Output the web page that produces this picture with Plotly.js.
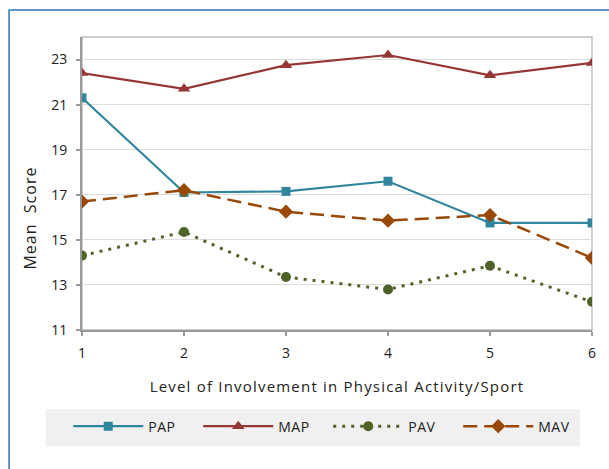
<!DOCTYPE html>
<html>
<head>
<meta charset="utf-8">
<script src="https://cdn.plot.ly/plotly-3.0.1.min.js"></script>
<style>
html,body{margin:0;padding:0;background:#fff;}
#chart{width:609px;height:469px;}
#chart .xtitle{letter-spacing:1.2px;}
#chart .annotation-text{letter-spacing:1px;}
#chart .legendtext{letter-spacing:0.5px;}
</style>
</head>
<body>
<div id="chart"></div>
<script>
var levels = [1, 2, 3, 4, 5, 6];
var pap = [21.3, 17.1, 17.15, 17.6, 15.75, 15.75];
var map = [22.4, 21.7, 22.75, 23.2, 22.3, 22.85];
var pav = [14.3, 15.35, 13.35, 12.8, 13.85, 12.25];
var mav = [16.7, 17.2, 16.25, 15.85, 16.1, 14.2];
var yTicks = [11, 13, 15, 17, 19, 21, 23];
var seriesNames = ['PAP', 'MAP', 'PAV', 'MAV'];

var FONT = 'Open Sans, Noto Sans, sans-serif';
var TXT = '#222222';

var traces = [
  {x: levels, y: pap, name: seriesNames[0], mode: 'lines+markers', type: 'scatter',
   line: {color: '#31859C', width: 2.2},
   marker: {symbol: 'square', size: 9, color: '#31859C'}},
  {x: levels, y: map, name: seriesNames[1], mode: 'lines+markers', type: 'scatter',
   line: {color: '#953735', width: 2.2},
   marker: {symbol: 'triangle-up', size: 11, color: '#953735'}},
  {x: levels, y: pav, name: seriesNames[2], mode: 'lines+markers', type: 'scatter',
   line: {color: '#4F6228', width: 3, dash: '3px,6px'},
   marker: {symbol: 'circle', size: 10, color: '#4F6228'}},
  {x: levels, y: mav, name: seriesNames[3], mode: 'lines+markers', type: 'scatter',
   line: {color: '#984807', width: 2.5, dash: '14px,7px'},
   marker: {symbol: 'diamond', size: 11, color: '#984807'}}
];

var layout = {
  width: 609, height: 469,
  margin: {l: 82, r: 17, t: 37, b: 139},
  paper_bgcolor: '#ffffff',
  plot_bgcolor: '#ffffff',
  font: {family: FONT, size: 14, color: TXT},
  showlegend: true,
  xaxis: {
    range: [1, 6], tickvals: levels, ticktext: levels.map(String),
    showgrid: false, zeroline: false,
    showline: true, linecolor: '#999999', linewidth: 2,
    ticks: 'outside', ticklen: 4, tickcolor: '#999999', tickwidth: 2,
    ticklabelstandoff: 5,
    tickfont: {family: FONT, size: 14, color: TXT},
    title: {text: 'Level of Involvement in Physical Activity/Sport', standoff: 21,
            font: {family: FONT, size: 15, color: TXT}}
  },
  yaxis: {
    range: [11, 24], tickvals: yTicks,
    showgrid: true, gridcolor: '#dcdcdc', gridwidth: 1, zeroline: false,
    showline: true, linecolor: '#999999', linewidth: 2,
    ticks: 'outside', ticklen: 4, tickcolor: '#999999', tickwidth: 2,
    ticklabelstandoff: 6,
    tickfont: {family: FONT, size: 14, color: TXT}
  },
  legend: {
    orientation: 'h', x: -0.027, xanchor: 'left', y: -0.275, yanchor: 'top',
    bgcolor: 'rgba(0,0,0,0)', borderwidth: 0,
    font: {family: FONT, size: 14, color: TXT},
    itemwidth: 70, entrywidth: 45, entrywidthmode: 'pixels',
    itemclick: false
  },
  annotations: [{
    xref: 'paper', yref: 'paper', x: -0.102, y: 0.382, xanchor: 'center', yanchor: 'middle',
    text: 'Mean\u00a0 Score', textangle: -90, showarrow: false,
    font: {family: FONT, size: 16, color: TXT}
  }],
  shapes: [
    {type: 'rect', xref: 'paper', yref: 'paper', x0: 0, x1: 1, y0: 0, y1: 1,
     line: {color: '#c0c0c0', width: 1.5}, layer: 'below'},
    {type: 'rect', xref: 'paper', yref: 'paper', x0: -0.071, x1: 0.9765, y0: -0.2705, y1: -0.397,
     fillcolor: '#f0f0f0', line: {width: 0}, layer: 'below'},
    {type: 'rect', xref: 'paper', yref: 'paper', x0: -0.143, x1: 1.05, y0: -0.5, y1: 1.092,
     line: {color: '#2E75B6', width: 1.5}, layer: 'below'}
  ]
};

Plotly.newPlot('chart', traces, layout, {displayModeBar: false, staticPlot: true});
</script>
</body>
</html>
